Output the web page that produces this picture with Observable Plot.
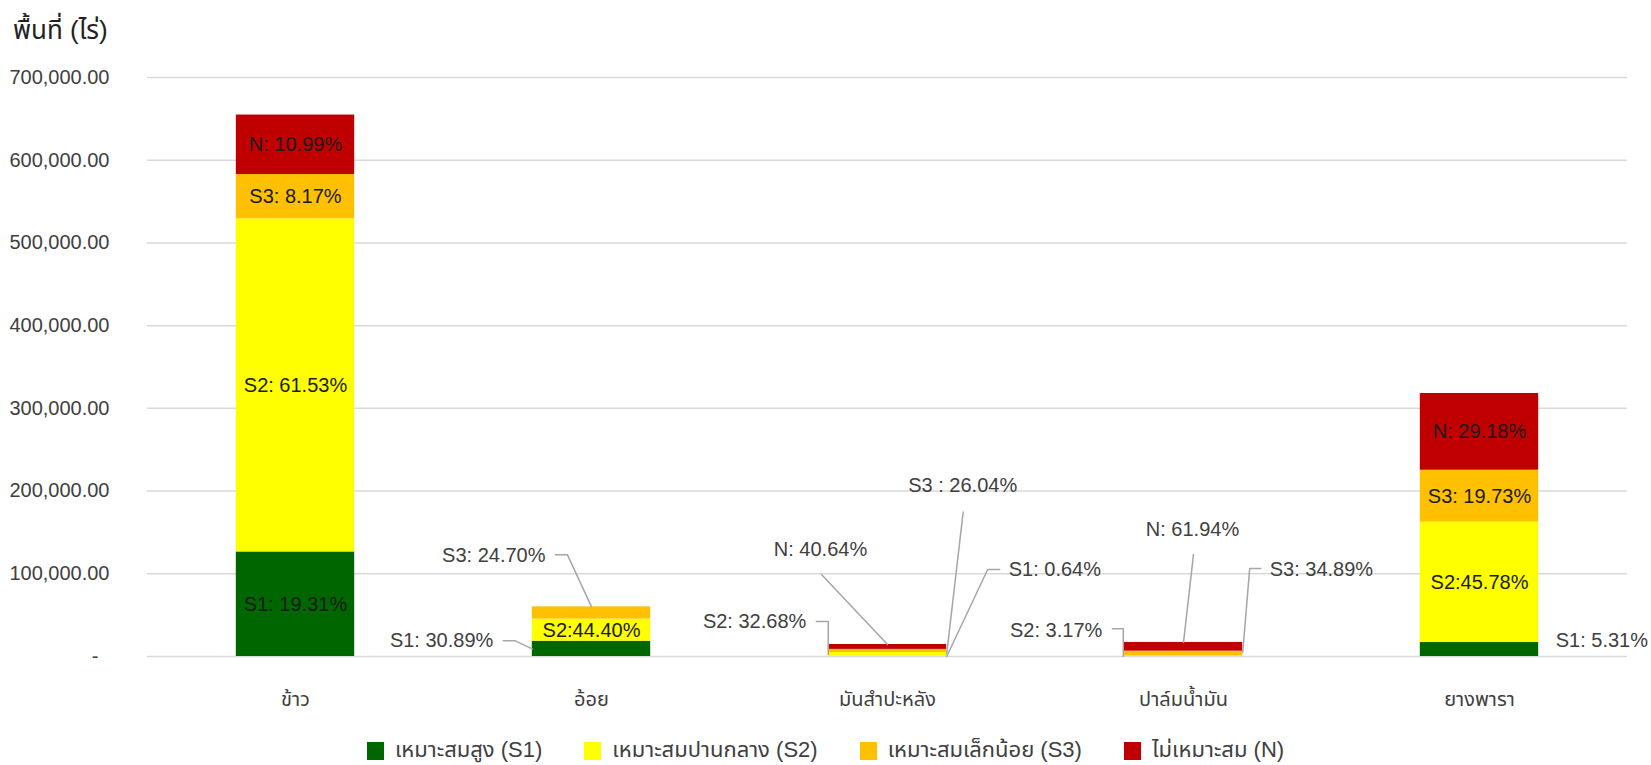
<!DOCTYPE html>
<html><head><meta charset="utf-8">
<script src="https://cdn.jsdelivr.net/npm/d3@7"></script>
<script src="https://cdn.jsdelivr.net/npm/@observablehq/plot@0.6"></script>
<style>
body{margin:0;background:#fff;overflow:hidden;font-family:"Liberation Sans","Noto Sans Thai","Noto Sans",sans-serif;}
#title{height:50px;font-size:26px;line-height:60px;padding-left:13px;color:#222;}
#chart svg{display:block}
#legend{display:flex;justify-content:center;margin-top:14px;}
#legend [class$="-swatch"]{margin-right:42px !important;}
#legend [class$="-swatch"]:last-child{margin-right:0 !important;}
</style></head><body>
<div id="title">พื้นที่ (ไร่)</div>
<div id="chart"></div>
<div id="legend"></div>
<script>
// ---- data ----
const crops = ["ข้าว", "อ้อย", "มันสำปะหลัง", "ปาล์มน้ำมัน", "ยางพารา"];
const seriesKeys = ["S1", "S2", "S3", "N"];
const seriesNames = ["เหมาะสมสูง (S1)", "เหมาะสมปานกลาง (S2)", "เหมาะสมเล็กน้อย (S3)", "ไม่เหมาะสม (N)"];
const seriesColors = ["#006600", "#FFFF00", "#FFC000", "#C00000"];
const areaS1 = [126400, 18500, 93, 0, 16890];
const areaS2 = [402800, 26700, 4740, 540, 145580];
const areaS3 = [53500, 14800, 3780, 5930, 62740];
const areaN  = [71900, 0, 5890, 10530, 92790];
const labelS1 = ["S1: 19.31%", "S1: 30.89%", "S1: 0.64%", "", "S1: 5.31%"];
const labelS2 = ["S2: 61.53%", "S2:44.40%", "S2: 32.68%", "S2: 3.17%", "S2:45.78%"];
const labelS3 = ["S3: 8.17%", "S3: 24.70%", "S3 : 26.04%", "S3: 34.89%", "S3: 19.73%"];
const labelN  = ["N: 10.99%", "", "N: 40.64%", "N: 61.94%", "N: 29.18%"];
const yTicks = [0, 100000, 200000, 300000, 400000, 500000, 600000, 700000];

// ---- callout layout (pixel offsets from the segment anchor) ----
const callouts = [
  {crop: 1, key: "S1", ax: "left",   ay: "mid", path: [[-29,-8],[-17,-8],[0,0]], label: [-39,-8], anchor: "end"},
  {crop: 1, key: "S3", ax: "center", ay: "top", path: [[-36,-52],[-24,-52],[0,0]], label: [-46,-51], anchor: "end"},
  {crop: 2, key: "S2", ax: "left",   ay: "mid", path: [[-12,-33],[0,-33],[0,0]], label: [-22,-33], anchor: "end"},
  {crop: 2, key: "N",  ax: "center", ay: "top", path: [[-66,-70],[0,0]], label: [-67,-95], anchor: "middle"},
  {crop: 2, key: "S3", ax: "right",  ay: "mid", path: [[16.5,-139],[0,3]], label: [16,-165], anchor: "middle"},
  {crop: 2, key: "S1", ax: "right",  ay: "mid", path: [[53,-87],[41,-87],[0,0]], label: [62,-87], anchor: "start"},
  {crop: 3, key: "S2", ax: "left",   ay: "mid", path: [[-12,-27.5],[-1,-27.5],[-1,0]], label: [-22,-26], anchor: "end"},
  {crop: 3, key: "N",  ax: "center", ay: "top", path: [[10,-88],[0,0]], label: [9,-113], anchor: "middle"},
  {crop: 3, key: "S3", ax: "right",  ay: "mid", path: [[18,-85],[7,-85],[0,-1]], label: [27,-84], anchor: "start"},
  {crop: 4, key: "S1", ax: "right",  ay: "mid", path: [], label: [17,-9], anchor: "start"}
];

// ---- build rows ----
const areas = [areaS1, areaS2, areaS3, areaN];
const labels = [labelS1, labelS2, labelS3, labelN];
const rows = [];
crops.forEach((c, i) => {
  let acc = 0;
  seriesKeys.forEach((k, j) => {
    const v = areas[j][i];
    rows.push({i, crop: c, key: k, series: seriesNames[j], y1: acc, y2: acc + v, label: labels[j][i]});
    acc += v;
  });
});

const W = 1651, H = 670, ML = 147, MR = 24, MT = 27, MB = 64;
const HALF = 0.2; // half bar width in category units
const kx = (W - ML - MR) / 5;          // px per category unit
const ky = (H - MT - MB) / 700000;     // px per rai

const isCallout = (r) => callouts.some(c => c.crop === r.i && c.key === r.key);
const insideRows = rows.filter(r => r.label && !isCallout(r));

const leaderPts = [];
const calloutLabels = [];
callouts.forEach((c, n) => {
  const r = rows.find(r => r.i === c.crop && r.key === c.key);
  const ax = c.ax === "left" ? r.i - HALF : c.ax === "right" ? r.i + HALF : r.i;
  const ay = c.ay === "top" ? r.y2 : (r.y1 + r.y2) / 2;
  c.path.forEach(([dx, dy]) => leaderPts.push({id: n, x: ax + dx / kx, y: ay - dy / ky}));
  calloutLabels.push({x: ax + c.label[0] / kx, y: ay - c.label[1] / ky, text: r.label, anchor: c.anchor});
});

const fontFam = '"Liberation Sans","Noto Sans Thai","Noto Sans",sans-serif';
const textMark = (a) => Plot.text(calloutLabels.filter(d => d.anchor === a), {
  x: "x", y: "y", text: "text", textAnchor: a, fill: "#404040", fontSize: 20
});

const chart = Plot.plot({
  width: W, height: H,
  marginLeft: ML, marginRight: MR, marginTop: MT, marginBottom: MB,
  style: {fontSize: "20px", fontFamily: fontFam, color: "#404040", background: "white"},
  x: {domain: [-0.5, 4.5], ticks: [0, 1, 2, 3, 4], tickFormat: i => crops[i], tickSize: 0, tickPadding: 35, label: null},
  y: {domain: [0, 700000], ticks: yTicks, tickFormat: v => v === 0 ? "-\u2007" : d3.format(",.2f")(v), tickSize: 0, tickPadding: 38, label: null},
  color: {type: "ordinal", domain: seriesNames, range: seriesColors},
  marks: [
    Plot.ruleY(yTicks, {stroke: "#d9d9d9", strokeWidth: 1.5}),
    Plot.rect(rows.filter(r => r.y2 > r.y1), {x1: d => d.i - HALF, x2: d => d.i + HALF, y1: "y1", y2: "y2", fill: "series"}),
    Plot.line(leaderPts, {x: "x", y: "y", z: "id", stroke: "#a6a6a6", strokeWidth: 1.5}),
    Plot.text(insideRows, {x: "i", y: d => (d.y1 + d.y2) / 2, text: "label", fill: "#1a1a1a", fontSize: 20}),
    textMark("start"), textMark("middle"), textMark("end")
  ]
});
document.getElementById("chart").appendChild(chart);

const legend = Plot.legend({
  color: {type: "ordinal", domain: seriesNames, range: seriesColors},
  swatchWidth: 17, swatchHeight: 18,
  style: {fontSize: "22px", fontFamily: fontFam, color: "#404040"}
});
document.getElementById("legend").appendChild(legend);
</script></body></html>
